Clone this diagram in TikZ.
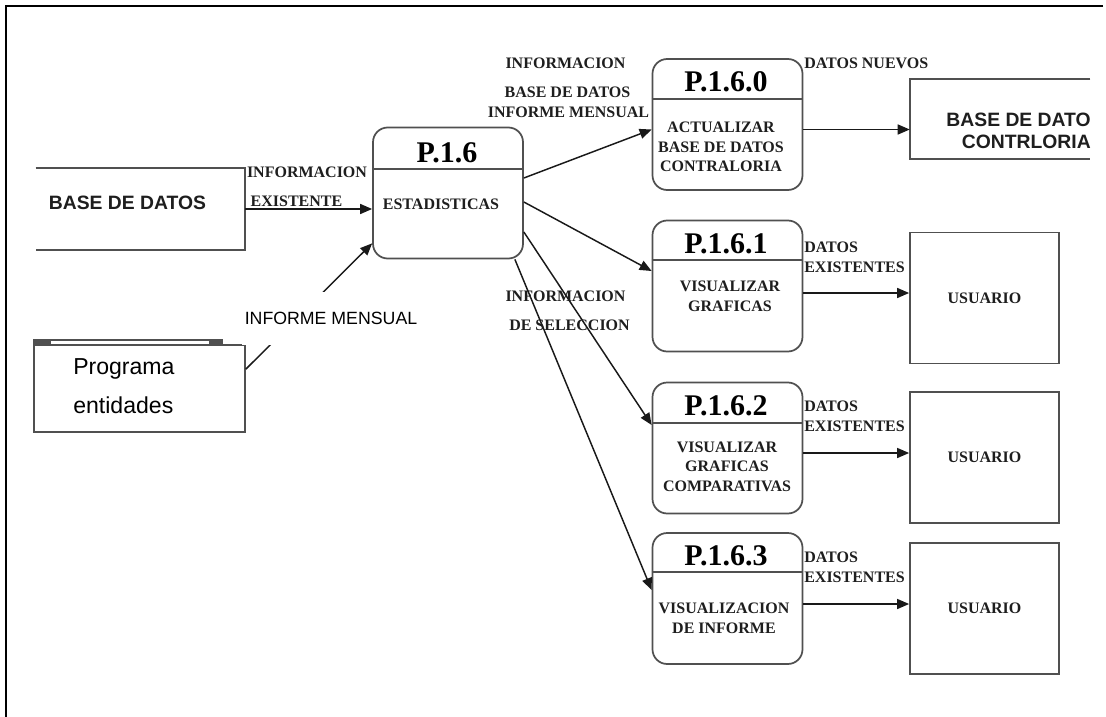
\documentclass[tikz,border=0pt]{standalone}
\usepackage{fontspec}
\setmainfont{Liberation Serif}
\newfontfamily\arialfont{Liberation Sans}
\usetikzlibrary{positioning,calc,arrows.meta}
\definecolor{boxGray}{RGB}{80,80,80}
\definecolor{lineDark}{RGB}{25,25,25}
\definecolor{textDark}{RGB}{30,30,30}
\tikzset{
  proc/.style={draw=boxGray, line width=1.3pt, rounded corners=11pt, minimum width=112.5pt, minimum height=98.25pt, inner sep=0pt},
  entity/.style={draw=boxGray, line width=1.3pt, minimum width=111.75pt, minimum height=98.25pt, inner sep=0pt, font=\fontsize{12}{14}\selectfont\bfseries, text=textDark},
  ptitle/.style={font=\fontsize{22.5}{26}\selectfont\bfseries, text=black, inner sep=0pt},
  ptext/.style={font=\fontsize{12}{14.7}\selectfont\bfseries, text=textDark, align=center, inner sep=0pt},
  flowlabel/.style={font=\fontsize{12}{15}\selectfont\bfseries, text=textDark, inner sep=0pt},
  storetext/.style={font=\arialfont\fontsize{14.5}{16.5}\selectfont\bfseries, text=textDark, inner sep=0pt},
  boxline/.style={draw=boxGray, line width=1.3pt},
  flow/.style={draw=lineDark, line width=1.1pt, -{Triangle[length=9pt,width=7.5pt]}},
}
\begin{document}
\begin{tikzpicture}[x=0.75pt,y=-0.75pt]
  \useasboundingbox (0,0) rectangle (1106,717);
  % frame
  \draw[black, line width=2pt] (1103,6) -- (6,6) -- (6,717);

  % data store and external entity on the left
  \node[minimum width=156.75pt, minimum height=61.5pt, inner sep=0pt] (store) at (140.5,209) {};
  \draw[boxline] (store.north west) -- (store.north east) -- (store.south east) -- (store.south west);
  \node[storetext] (storeText) at (127.5,203) {BASE DE DATOS};

  \node[boxline, minimum width=158.25pt, minimum height=65.25pt, inner sep=0pt] (prog) at (139.5,388.5) {};
  \draw[boxline] ($(prog.north west)+(0,-4)$) -- ($(prog.north east)+(-23,-4)$);
  \draw[boxline, line width=2.4pt] ($(prog.north west)+(0,-2)$) -- ++(18,0);
  \draw[boxline, line width=2.4pt] ($(prog.north east)+(-37,-2)$) -- ++(14,0);
  \begin{scope}
    \clip (prog.north west) rectangle ($(prog.east)+(0,24.5)$);
    \node[font=\arialfont\fontsize{17.3}{29}\selectfont, align=left, anchor=west, inner sep=0pt] (progText) at (73,386) {Programa\\entidades};
  \end{scope}

  % process P.1.6
  \node[proc] (p16) at (448,193) {};
  \draw[boxline] ($(p16.north west)+(0,42)$) -- ($(p16.north east)+(0,42)$);
  \node[ptitle] (t16) at (447,153) {P.1.6};
  \node[ptext] (c16) at (441,204) {ESTADISTICAS};

  % processes on the right
  \node[proc] (p160) at (727.5,124.5) {};
  \draw[boxline] ($(p160.north west)+(0,41)$) -- ($(p160.north east)+(0,41)$);
  \node[ptitle] (t160) at (726,82) {P.1.6.0};
  \node[ptext] (c160) at (721,147) {ACTUALIZAR\\BASE DE DATOS\\CONTRALORIA};

  \node[proc] (p161) at (727.5,286) {};
  \draw[boxline] ($(p161.north west)+(0,40)$) -- ($(p161.north east)+(0,40)$);
  \node[ptitle] (t161) at (726,244) {P.1.6.1};
  \node[ptext] (c161) at (730,296.5) {VISUALIZAR\\GRAFICAS};

  \node[proc] (p162) at (727.5,448) {};
  \draw[boxline] ($(p162.north west)+(0,41)$) -- ($(p162.north east)+(0,41)$);
  \node[ptitle] (t162) at (726,406) {P.1.6.2};
  \node[ptext] (c162) at (727,466.5) {VISUALIZAR\\GRAFICAS\\COMPARATIVAS};

  \node[proc] (p163) at (727.5,598.5) {};
  \draw[boxline] ($(p163.north west)+(0,40)$) -- ($(p163.north east)+(0,40)$);
  \node[ptitle] (t163) at (726,556) {P.1.6.3};
  \node[ptext] (c163) at (724,618.5) {VISUALIZACION\\DE INFORME};

  % entities on the far right
  \node[minimum width=135pt, minimum height=60pt, inner sep=0pt] (bdc) at (1000,119) {};
  \draw[boxline] (bdc.north east) -- (bdc.north west) -- (bdc.south west) -- (bdc.south east);
  \node[storetext, align=right, anchor=east] (bdcText) at (1091,131) {BASE DE DATO\\CONTRLORIA};
  \node[entity] (usr1) at (984.5,298) {USUARIO};
  \node[entity] (usr2) at (984.5,457.5) {USUARIO};
  \node[entity] (usr3) at (984.5,608.5) {USUARIO};

  % flows into P.1.6
  \draw[flow] (store.east) -- (store.east -| p16.west);
  \node[flowlabel] (lblInfo) at (307,172) {INFORMACION};
  \node[flowlabel] (lblExist) at (296.5,201) {EXISTENTE};
  \coordinate (pOut) at ($(prog.north east)+(0,25)$);
  \coordinate (pIn) at ($(p16.south west)+(0,-16)$);
  \draw[flow] (pOut) -- (pIn);
  \node[fill=white, minimum height=39.75pt, inner xsep=2pt, inner ysep=0pt, font=\arialfont\fontsize{13.3}{16}\selectfont] (lblMensual) at (331,318.5) {INFORME MENSUAL};

  % flows out of P.1.6
  \coordinate (o0) at ($(p16.east)+(0,-15)$);
  \coordinate (i0) at ($(p160.west)+(0,5)$);
  \coordinate (o1) at ($(p16.east)+(0,9)$);
  \coordinate (i1) at ($(p161.west)+(0,-15)$);
  \coordinate (o2) at ($(p16.east)+(0,39)$);
  \coordinate (i2) at ($(p162.west)+(0,-23)$);
  \coordinate (o3) at ($(p16.south east)+(-9,0)$);
  \coordinate (i3) at ($(p163.west)+(0,-8.5)$);
  \draw[flow] (o0) -- (i0);
  \draw[flow] (o1) -- (i1);
  \draw[flow] (o2) -- (i2);
  \draw[flow] (o3) -- (i3);
  \node[flowlabel] (lblInfoBd) at (565.5,63) {INFORMACION};
  \node[flowlabel] (lblBd) at (567.5,92) {BASE DE DATOS};
  \node[flowlabel] (lblInfMen) at (568.5,112) {INFORME MENSUAL};
  \node[flowlabel] (lblInfoSel) at (565.5,296) {INFORMACION};
  \node[flowlabel] (lblSel) at (569.5,325) {DE SELECCION};

  % flows to the entities
  \coordinate (a0) at ($(p160.east)+(0,5)$);
  \coordinate (a1) at ($(p161.east)+(0,7)$);
  \coordinate (a2) at ($(p162.east)+(0,5)$);
  \coordinate (a3) at ($(p163.east)+(0,5.5)$);
  \draw[flow] (a0) -- (a0 -| bdc.west);
  \draw[flow] (a1) -- (a1 -| usr1.west);
  \draw[flow] (a2) -- (a2 -| usr2.west);
  \draw[flow] (a3) -- (a3 -| usr3.west);
  \node[flowlabel, anchor=west] (lblNuevos) at (804,63) {DATOS NUEVOS};
  \node[flowlabel, align=left, anchor=west] (lblExist1) at (804,257) {DATOS\\EXISTENTES};
  \node[flowlabel, align=left, anchor=west] (lblExist2) at (804,416.5) {DATOS\\EXISTENTES};
  \node[flowlabel, align=left, anchor=west] (lblExist3) at (804,567) {DATOS\\EXISTENTES};
\end{tikzpicture}
\end{document}
